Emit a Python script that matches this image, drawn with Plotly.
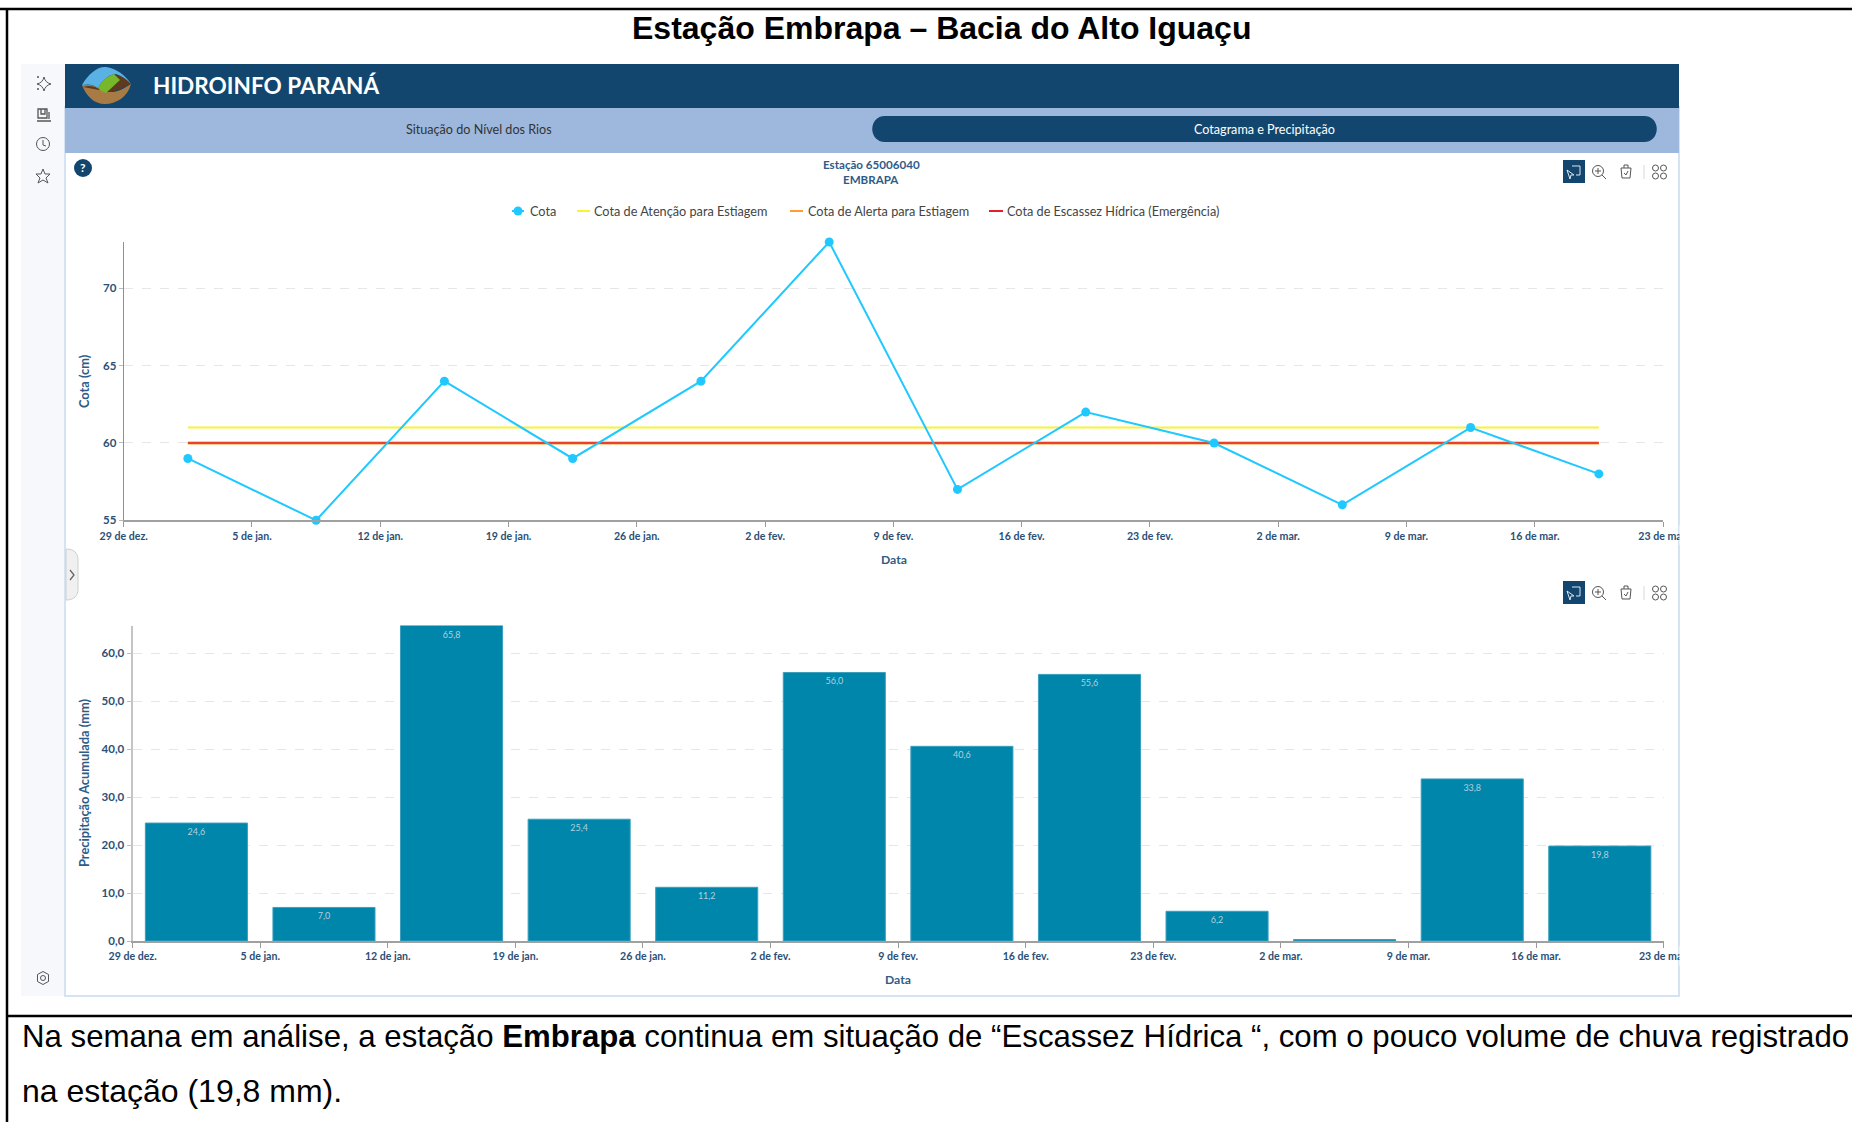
import re
import plotly.graph_objects as go

W, H = 1852, 1122

# ---------- data ----------
week_centres = ["2025-01-01 12:00", "2025-01-08 12:00", "2025-01-15 12:00", "2025-01-22 12:00",
                "2025-01-29 12:00", "2025-02-05 12:00", "2025-02-12 12:00", "2025-02-19 12:00",
                "2025-02-26 12:00", "2025-03-05 12:00", "2025-03-12 12:00", "2025-03-19 12:00"]
cota = [59, 55, 64, 59, 64, 73, 57, 62, 60, 56, 61, 58]
cota_atencao = [61] * 12
cota_alerta = [60] * 12
cota_escassez = [60] * 12
precip = [24.6, 7.0, 65.8, 25.4, 11.2, 56.0, 40.6, 55.6, 6.2, 0.3, 33.8, 19.8]
precip_labels = ["24,6", "7,0", "65,8", "25,4", "11,2", "56,0", "40,6", "55,6", "6,2", "", "33,8", "19,8"]
tick_dates = ["2024-12-29", "2025-01-05", "2025-01-12", "2025-01-19", "2025-01-26", "2025-02-02",
              "2025-02-09", "2025-02-16", "2025-02-23", "2025-03-02", "2025-03-09", "2025-03-16", "2025-03-23"]
tick_labels = ["29 de dez.", "5 de jan.", "12 de jan.", "19 de jan.", "26 de jan.", "2 de fev.",
               "9 de fev.", "16 de fev.", "23 de fev.", "2 de mar.", "9 de mar.", "16 de mar.", "23 de mar."]
cota_ticks = [55, 60, 65, 70]
precip_ticks = [0, 10, 20, 30, 40, 50, 60]
precip_ticklabels = ["0,0", "10,0", "20,0", "30,0", "40,0", "50,0", "60,0"]

# ---------- colours ----------
NAVY = "#12466F"
BAND = "#9DB8DC"
INK = "#2F5C86"
TICK = "#2A5078"
CYAN = "#1FC8FF"
YELLOW = "#F8F430"
ORANGE = "#FF9E2E"
RED = "#E4202A"
BAR = "#0085AB"
ICON = "#555555"
FONT = "Lato"
DOC = "Liberation Sans"


def fx(p): return p / W
def fy(p): return 1 - p / H


def conv(d):
    i = 0

    def rep(m):
        nonlocal i
        v = float(m.group())
        r = fx(v) if i % 2 == 0 else fy(v)
        i += 1
        return f"{r:.6f}"
    return re.sub(r"-?\d+\.?\d*", rep, d)


shapes, notes = [], []


def rect(x0, y0, x1, y1, fill, layer="below", line=None, lw=0):
    shapes.append(dict(type="rect", xref="paper", yref="paper", x0=fx(x0), x1=fx(x1), y0=fy(y0), y1=fy(y1),
                       fillcolor=fill, line=dict(color=line or fill, width=lw), layer=layer))


def seg(x0, y0, x1, y1, color, w=1, layer="below"):
    shapes.append(dict(type="line", xref="paper", yref="paper", x0=fx(x0), x1=fx(x1), y0=fy(y0), y1=fy(y1),
                       line=dict(color=color, width=w), layer=layer))


def path(d, fill=None, color=None, w=1, layer="below"):
    s = dict(type="path", xref="paper", yref="paper", path=conv(d), layer=layer,
             line=dict(color=color or "rgba(0,0,0,0)", width=w))
    if fill:
        s["fillcolor"] = fill
    shapes.append(s)


def circle(cx, cy, r, fill=None, color=None, w=1, layer="below"):
    s = dict(type="circle", xref="paper", yref="paper", x0=fx(cx - r), x1=fx(cx + r), y0=fy(cy - r), y1=fy(cy + r),
             layer=layer, line=dict(color=color or "rgba(0,0,0,0)", width=w))
    if fill:
        s["fillcolor"] = fill
    shapes.append(s)


def text(x, y, t, size, color, family=FONT, anchor="center", angle=0):
    notes.append(dict(xref="paper", yref="paper", x=fx(x), y=fy(y), text=t, showarrow=False, xanchor=anchor,
                      yanchor="middle", textangle=angle, borderpad=0, font=dict(family=family, size=size, color=color)))


# ---------- application chrome ----------
rect(21, 64, 66, 996, "#F7F8FB")
rect(65, 107, 1679, 996, "#FFFFFF", line="#D5E3F2", lw=2)
rect(65, 64, 1679, 108, NAVY)
rect(65, 108, 1679, 153, BAND)
path("M 885 116 L 1644 116 C 1661 116 1661 142 1644 142 L 885 142 C 868 142 868 116 885 116 Z", fill=NAVY)
text(152, 85, "<b>HIDROINFO PARANÁ</b>", 22.6, "#FFFFFF", anchor="left")
text(479, 129, "Situação do Nível dos Rios", 12.6, "#333333")
text(1264, 129, "Cotagrama e Precipitação", 12.6, "#FFFFFF")

# logo
path("M 82 85 C 90 84 96 86 103 90 C 112 95 122 90 131 84 C 128 97 116 104 105 104 C 94 104 86 96 82 85 Z", fill="#A87B45")
path("M 83 87 C 92 84 98 88 104 91 C 112 94 122 88 131 84 C 126 78 118 72 112 77 L 99 90 Z", fill="#5E3A1E")
path("M 82 85 C 88 74 98 66 106 67 C 116 68 126 76 131 84 C 126 79 122 76 116 74 C 108 74 100 84 98 88 C 92 84 88 84 82 85 Z",
     fill="#5AB2E4")
path("M 98 88 C 101 82 107 76 114 74 L 120 80 L 106 93 C 103 92 100 90 98 88 Z", fill="#76B82A")

# help badge
circle(83, 168, 9, fill=NAVY)
text(83, 168, "<b>?</b>", 12, "#FFFFFF")

# sidebar icons
path("M 44 77 C 45 81 47 83 51 84 C 47 85 45 87 44 91 C 43 87 41 85 37 84 C 41 83 43 81 44 77 Z", color=ICON)
circle(38, 77, 1, fill=ICON)
circle(38, 89, 1, fill=ICON)
path("M 38 109 L 47 109 L 47 118 L 38 118 Z M 41 109 L 41 114 L 45 114 L 45 109 M 49 112 L 49 119 M 37 121 L 51 121",
     color=ICON, w=1.3)
circle(43, 144, 6.5, color=ICON)
path("M 43 140 L 43 145 L 46 146", color=ICON)
path("M 43 169 L 45 174 L 50 174 L 46 178 L 48 183 L 43 180 L 38 183 L 40 178 L 36 174 L 41 174 Z", color=ICON)
circle(43, 978, 2.5, color=ICON)
path("M 43 971.5 L 48.5 974.5 L 48.5 981.5 L 43 984.5 L 37.5 981.5 L 37.5 974.5 Z", color=ICON)

# collapse tab
path("M 66 549 C 74 549 78 553 78 560 L 78 589 C 78 596 74 600 66 600 Z", fill="#F0F0F0", color="#CFCFCF")
path("M 70 570 L 74 575 L 70 580", color="#666666", w=1.3)


def toolbar(cy):
    rect(1563, cy - 12, 1585, cy + 11, NAVY)
    path(f"M 1572 {cy-6} L 1580 {cy-6} L 1580 {cy+3} L 1576 {cy+3}", color="#DDE6EE")
    path(f"M 1567 {cy-2} L 1574 {cy+3} L 1571 {cy+3} L 1570 {cy+7} Z", color="#DDE6EE")
    circle(1598, cy - 1, 5.5, color=ICON)
    path(f"M 1595 {cy-1} L 1601 {cy-1} M 1598 {cy-4} L 1598 {cy+2} M 1602 {cy+3} L 1606 {cy+7}", color=ICON)
    path(f"M 1621 {cy-4} L 1631 {cy-4} L 1630 {cy+6} L 1622 {cy+6} Z M 1624 {cy-4} L 1624 {cy-7} L 1628 {cy-7} L 1628 {cy-4} "
         f"M 1624 {cy+1} L 1626 {cy+3} L 1628 {cy-1}", color=ICON)
    seg(1644, cy - 7, 1644, cy + 7, "#D8D8D8")
    for cx_ in (1655.5, 1663.5):
        for dy in (-4, 4):
            circle(cx_, cy + dy, 3, color=ICON)


toolbar(172)
toolbar(593)

# chart heading and hand-placed legend, as in the reference
text(871, 164.5, "<b>Estação 65006040</b>", 11.6, INK)
text(871, 180, "<b>EMBRAPA</b>", 11.6, INK)
circle(518, 211, 4.5, fill=CYAN)
seg(512, 211, 524, 211, CYAN, 2)
text(529, 211, "Cota", 12.7, "#444444", anchor="left")
seg(577, 211, 590, 211, YELLOW, 2)
text(593, 211, "Cota de Atenção para Estiagem", 12.7, "#444444", anchor="left")
seg(790, 211, 803, 211, ORANGE, 2)
text(807, 211, "Cota de Alerta para Estiagem", 12.7, "#444444", anchor="left")
seg(989, 211, 1003, 211, RED, 2)
text(1006, 211, "Cota de Escassez Hídrica (Emergência)", 12.7, "#444444", anchor="left")

# axis titles
text(84, 381, "<b>Cota (cm)</b>", 12.8, INK, angle=-90)
text(894, 559, "<b>Data</b>", 12.2, INK)
text(84, 783, "<b>Precipitação Acumulada (mm)</b>", 12.8, INK, angle=-90)
text(898, 979, "<b>Data</b>", 12.2, INK)

# clip the last tick label at the panel edge
rect(1679.5, 525, 1760, 545, "#FFFFFF", layer="above")
rect(1679.5, 946, 1760, 966, "#FFFFFF", layer="above")

# document table around the screenshot
seg(0, 9, W, 9, "#000000", 2.5, "above")
seg(7, 9, 7, H, "#000000", 2.5, "above")
seg(7, 1016, W, 1016, "#000000", 2.5, "above")
text(941, 28, "<b>Estação Embrapa – Bacia do Alto Iguaçu</b>", 32, "#000000", family=DOC)
text(21, 1036, "Na semana em análise, a estação <b>Embrapa</b> continua em situação de “Escassez Hídrica “, "
               "com o pouco volume de chuva registrado", 31.2, "#000000", family=DOC, anchor="left")
text(21, 1091, "na estação (19,8 mm).", 32, "#000000", family=DOC, anchor="left")

# ---------- charts ----------
fig = go.Figure()
fig.add_trace(go.Scatter(x=week_centres, y=cota_atencao, name="Cota de Atenção para Estiagem", mode="lines",
                         line=dict(color=YELLOW, width=2), showlegend=False, xaxis="x", yaxis="y"))
fig.add_trace(go.Scatter(x=week_centres, y=cota_alerta, name="Cota de Alerta para Estiagem", mode="lines",
                         line=dict(color=ORANGE, width=3), showlegend=False, xaxis="x", yaxis="y"))
fig.add_trace(go.Scatter(x=week_centres, y=cota_escassez, name="Cota de Escassez Hídrica (Emergência)", mode="lines",
                         line=dict(color=RED, width=1.6), showlegend=False, xaxis="x", yaxis="y"))
fig.add_trace(go.Scatter(x=week_centres, y=cota, name="Cota", mode="lines+markers", cliponaxis=False,
                         line=dict(color=CYAN, width=2), marker=dict(color=CYAN, size=9),
                         showlegend=False, xaxis="x", yaxis="y"))
fig.add_trace(go.Bar(x=week_centres, y=precip, text=precip_labels, textposition="inside", insidetextanchor="end",
                     textangle=0, constraintext="none", width=0.8 * 7 * 86400000,
                     textfont=dict(family=FONT, size=9, color="#B4CFDB"),
                     marker=dict(color=BAR, line=dict(color="#3A9FBE", width=1)),
                     name="Precipitação Acumulada", showlegend=False, xaxis="x2", yaxis="y2"))

xcommon = dict(type="date", range=["2024-12-29", "2025-03-23"], tickmode="array", tickvals=tick_dates,
               ticktext=tick_labels, ticks="outside", ticklen=5, tickcolor="#999999", showgrid=False,
               showline=True, linecolor="#A0A0A0", linewidth=1.5, tickangle=0,
               tickfont=dict(family=FONT, size=10.6, color=TICK, weight=700), zeroline=False)
ycommon = dict(tickmode="array", ticks="outside", ticklen=4, tickcolor="#BBBBBB", showgrid=True,
               gridcolor="#E6E6E6", griddash="dash", gridwidth=1, showline=True, zeroline=False,
               tickfont=dict(family=FONT, size=11.5, color=TICK, weight=700))

fig.update_layout(
    width=W, height=H, autosize=False, margin=dict(l=0, r=0, t=0, b=0, autoexpand=False),
    paper_bgcolor="#FFFFFF", plot_bgcolor="rgba(0,0,0,0)", showlegend=False, bargap=0.2,
    shapes=shapes, annotations=notes,
    xaxis=dict(domain=[fx(123.7), fx(1663)], anchor="y", **xcommon),
    yaxis=dict(domain=[fy(520.3), fy(242)], anchor="x", range=[55, 73], tickvals=cota_ticks,
               linecolor="#909090", linewidth=1, **ycommon),
    xaxis2=dict(domain=[fx(132.6), fx(1663.6)], anchor="y2", **xcommon),
    yaxis2=dict(domain=[fy(941), fy(625.5)], anchor="x2", range=[0, 65.8], tickvals=precip_ticks,
                ticktext=precip_ticklabels, linecolor="#C4C4C4", linewidth=2, **ycommon),
)

fig.write_html("out.html", post_script="document.body.style.margin='0';document.body.style.overflow='hidden';",
               config=dict(displayModeBar=False))
